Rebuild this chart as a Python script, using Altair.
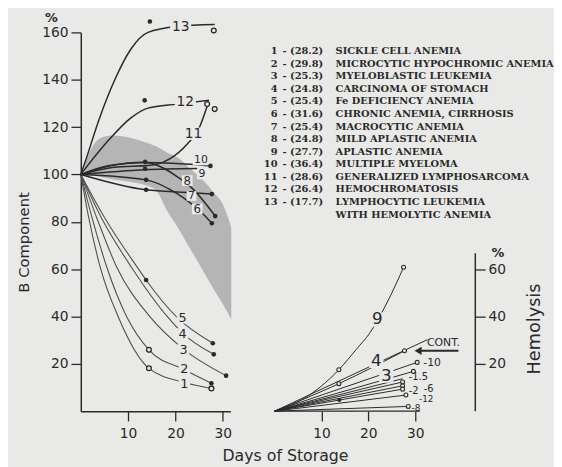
import altair as alt
import pandas as pd

BG = "#e9e9e7"
INK = "#2a2a2a"
GRAY = "#505050"
SANS = "DejaVu Sans"
SERIF = "DejaVu Serif"

# ---------------- Left panel: B component (%) vs days of storage ----------------
B1_DAY = [0, 1.7, 4.1, 7.9, 14.4, 21.9, 27.6]
B1_PCT = [100, 81.5, 60.8, 39.9, 18.1, 12.1, 9.6]
B2_DAY = [0, 2.4, 5.5, 9.7, 14.4, 21.9, 27.6]
B2_PCT = [100, 81.5, 60.8, 39.9, 25.9, 17.5, 11.8]
B3_DAY = [0, 3.4, 7.6, 14.6, 21.7, 30.7]
B3_PCT = [100, 81.5, 60.8, 39.9, 26.2, 15.0]
B4_DAY = [0, 4.4, 10.7, 18.3, 21.5, 28.1]
B4_PCT = [100, 81.5, 60.8, 39.9, 33.0, 24.0]
B5_DAY = [0, 5.1, 12.1, 13.8, 20.4, 27.9]
B5_PCT = [100, 81.5, 60.3, 55.4, 39.5, 28.7]
B6_DAY = [0, 13.8, 19.0, 21.8, 26.0, 27.7]
B6_PCT = [100, 97.7, 93.5, 90.0, 83.0, 79.4]
B7_DAY = [0, 13.8, 22.5, 27.7]
B7_PCT = [100, 93.5, 92.4, 91.7]
B8_DAY = [0, 6, 13.5, 17.6, 20.4, 23.5, 28.4]
B8_PCT = [100, 103.5, 105.1, 102.5, 99.0, 94.2, 82.4]
B9_DAY = [0, 13.5, 24.6]
B9_PCT = [100, 102.0, 102.5]
B10_DAY = [0, 6, 13.5, 27.4]
B10_PCT = [100, 103.8, 105.0, 103.6]
B11_DAY = [0, 7, 14.8, 22.5, 24.9, 26.7]
B11_PCT = [100, 103, 103.9, 112.9, 119.1, 128.8]
B12_DAY = [0, 5.8, 10.6, 14.2, 20.4, 27.1]
B12_PCT = [100, 114.3, 123.9, 128.0, 129.7, 131.3]
B13_DAY = [0, 1.04, 3.75, 7.3, 10.6, 14.2, 20.4, 28.3]
B13_PCT = [100, 106, 122.6, 140.5, 153, 160, 162.5, 163.3]

B_LABEL = ["1", "2", "3", "4", "5", "6", "7", "8", "9", "10", "11", "12", "13"]
B_LABEL_DAY = [21.9, 21.9, 21.7, 21.5, 21.5, 24.6, 23.4, 22.5, 25.6, 25.4, 23.8, 22.1, 21.1]
B_LABEL_PCT = [11.6, 17.7, 26.0, 32.6, 39.4, 85.4, 90.9, 97.4, 100.0, 105.9, 117.2, 130.4, 162.4]
B_LABEL_SIZE = [13, 13, 13, 13, 13, 12, 11, 12, 11, 11, 14, 14, 14]

B_DOT_DAY = [14.6, 28.1, 13.5, 28.3, 26.7, 27.4, 13.6, 13.6, 13.8, 27.7, 13.8, 27.7, 28.4,
             14.4, 27.6, 14.4, 27.6, 30.7, 28.1, 13.8, 27.9]
B_DOT_PCT = [164.6, 160.8, 131.3, 127.6, 129.7, 103.6, 105.3, 102.4, 93.5, 91.7, 97.7, 79.4, 82.4,
             18.1, 9.6, 25.9, 11.8, 15.0, 24.0, 55.4, 28.7]
B_DOT_OPEN = [False, True, False, True, True, False, False, False, False, False, False, False, False,
              True, True, True, False, False, False, False, False]

BAND_DAY = [0.8, 2, 4, 6.5, 10, 13.5, 15.8, 18.3, 20.7, 22, 24, 26, 28, 30, 31.8]
BAND_LO = [100, 100, 99, 98, 97, 95.5, 93.5, 84.4, 76.9, 72.4, 65.6, 58.7, 51.8, 45.3, 38.8]
BAND_HI = [104, 110, 115.2, 116.4, 115.7, 113.6, 112, 109.2, 106.8, 104.5, 100.9, 97.2, 92.6, 87.5, 77.5]

# ---------------- Right panel: hemolysis (%) vs days of storage ----------------
H9_DAY = [0, 6.3, 13.7, 17.5, 20.3, 23.5, 25.9, 27.5]
H9_PCT = [0, 5.4, 17.5, 26.3, 33.0, 44.0, 53.7, 60.8]
H4_DAY = [0, 13.7, 27.7]
H4_PCT = [0, 11.6, 25.5]
HCONT_DAY = [0, 32.6]
HCONT_PCT = [0, 30.2]
H10_DAY = [0, 30.4]
H10_PCT = [0, 20.6]
H1_DAY = [0, 29.6]
H1_PCT = [0, 16.8]
H3_DAY = [0, 27.3]
H3_PCT = [0, 13.7]
H5_DAY = [0, 27.3]
H5_PCT = [0, 12.3]
H2_DAY = [0, 27.3]
H2_PCT = [0, 10.7]
H6_DAY = [0, 27.3]
H6_PCT = [0, 9.3]
H12_DAY = [0, 28.0]
H12_PCT = [0, 6.8]
H8_DAY = [0, 28.5]
H8_PCT = [0, 2.0]

H_DOT_DAY = [13.7, 27.5, 13.7, 27.7, 30.4, 29.6, 27.3, 27.3, 27.3, 28.0, 28.5, 13.8]
H_DOT_PCT = [17.5, 60.8, 11.6, 25.5, 20.6, 16.8, 12.3, 10.7, 9.3, 6.8, 2.0, 4.7]
H_DOT_OPEN = [True, True, True, True, True, True, True, True, True, True, True, False]

H_LABEL = ["9", "4", "3"]
H_LABEL_DAY = [21.9, 21.7, 23.8]
H_LABEL_PCT = [38.7, 21.2, 15.0]

H_TAG = ["CONT.", "-10", "-1.5", "-2", "-6", "-12", "-8"]
H_TAG_DAY = [32.5, 31.7, 28.6, 28.6, 31.8, 30.8, 29.2]
H_TAG_PCT = [28.6, 20.4, 14.2, 8.4, 9.4, 5.0, 1.3]
H_TAG_SIZE = [11, 11, 10, 10, 10, 9, 9]

ARROW_DAY = [39.2, 30.6]
ARROW_PCT = [25.5, 25.5]

LEGEND_NUM = ["1", "2", "3", "4", "5", "6", "7", "8", "9", "10", "11", "12", "13", ""]
LEGEND_CODE = ["- (28.2)", "- (29.8)", "- (25.3)", "- (24.8)", "- (25.4)", "- (31.6)", "- (25.4)",
               "- (24.8)", "- (27.7)", "- (36.4)", "- (28.6)", "- (26.4)", "- (17.7)", ""]
LEGEND_NAME = ["SICKLE CELL ANEMIA", "MICROCYTIC HYPOCHROMIC ANEMIA", "MYELOBLASTIC LEUKEMIA",
               "CARCINOMA OF STOMACH", "Fe DEFICIENCY ANEMIA", "CHRONIC ANEMIA, CIRRHOSIS",
               "MACROCYTIC ANEMIA", "MILD APLASTIC ANEMIA", "APLASTIC ANEMIA", "MULTIPLE MYELOMA",
               "GENERALIZED LYMPHOSARCOMA", "HEMOCHROMATOSIS", "LYMPHOCYTIC LEUKEMIA",
               "WITH HEMOLYTIC ANEMIA"]

ONE_DIGIT = "M-1,-1L1,-1L1,1L-1,1Z"
TWO_DIGIT = "M-1.7,-1L1.7,-1L1.7,1L-1.7,1Z"


def series(prefix, names, days_list, vals_list):
    frames = []
    for n, d, v in zip(names, days_list, vals_list):
        frames.append(pd.DataFrame({"s": prefix + n, "day": d, "pct": v, "o": list(range(len(d)))}))
    return pd.concat(frames, ignore_index=True)


low_df = series("B", ["1", "2", "3", "4", "5"],
                [B1_DAY, B2_DAY, B3_DAY, B4_DAY, B5_DAY],
                [B1_PCT, B2_PCT, B3_PCT, B4_PCT, B5_PCT])
up_df = series("B", ["6", "7", "8", "9", "10", "11", "12", "13"],
               [B6_DAY, B7_DAY, B8_DAY, B9_DAY, B10_DAY, B11_DAY, B12_DAY, B13_DAY],
               [B6_PCT, B7_PCT, B8_PCT, B9_PCT, B10_PCT, B11_PCT, B12_PCT, B13_PCT])
blab_df = pd.DataFrame({"t": B_LABEL, "day": B_LABEL_DAY, "pct": B_LABEL_PCT, "fs": B_LABEL_SIZE})
blab_df["area"] = (blab_df["fs"] * 0.9) ** 2
bdot_df = pd.DataFrame({"day": B_DOT_DAY, "pct": B_DOT_PCT, "open": B_DOT_OPEN})
band_df = pd.DataFrame({"day": BAND_DAY, "lo": BAND_LO, "hi": BAND_HI})

XL = alt.X("day:Q", scale=alt.Scale(domain=[0, 31.6], nice=False, zero=False),
           axis=alt.Axis(values=[10, 20, 30], title=None, labelPadding=6))
YAX = alt.Axis(values=[20, 40, 60, 80, 100, 120, 140, 160], title="B Component",
               titleAngle=270, titleY=213, titlePadding=10, titleFontSize=15)
YL = alt.Y("pct:Q", scale=alt.Scale(domain=[0, 160], nice=False), axis=YAX)

band = alt.Chart(band_df).mark_area(color="#ababab", opacity=0.85, interpolate="monotone").encode(
    x=XL, y=alt.Y("lo:Q", scale=alt.Scale(domain=[0, 160], nice=False), axis=YAX), y2="hi:Q")
low_lines = alt.Chart(low_df).mark_line(color=GRAY, strokeWidth=1.1, interpolate="monotone").encode(
    x=XL, y=YL, detail="s:N", order="o:Q")
up_lines = alt.Chart(up_df).mark_line(color=INK, strokeWidth=1.5, interpolate="monotone").encode(
    x=XL, y=YL, detail="s:N", order="o:Q")
gap1 = alt.Chart(blab_df).transform_filter("length(datum.t) == 1").mark_point(
    shape=ONE_DIGIT, filled=True, color=BG, opacity=1, strokeWidth=0).encode(
    x=XL, y=YL, size=alt.Size("area:Q", scale=None, legend=None))
gap2 = alt.Chart(blab_df).transform_filter("length(datum.t) == 2").mark_point(
    shape=TWO_DIGIT, filled=True, color=BG, opacity=1, strokeWidth=0).encode(
    x=XL, y=YL, size=alt.Size("area:Q", scale=None, legend=None))
blab = alt.Chart(blab_df).mark_text(font=SANS, color=INK).encode(
    x=XL, y=YL, text="t:N", size=alt.Size("fs:Q", scale=None, legend=None))
bdot_fill = alt.Chart(bdot_df).transform_filter("!datum.open").mark_circle(color=INK, size=22, opacity=1).encode(
    x=XL, y=YL)
bdot_open = alt.Chart(bdot_df).transform_filter("datum.open").mark_point(
    shape="circle", fill=BG, stroke=INK, strokeWidth=1.3, size=24, opacity=1, filled=False).encode(x=XL, y=YL)
pct_left = alt.Chart(pd.DataFrame({"t": ["%"]})).mark_text(font=SANS, fontSize=13, color=INK, fontWeight="bold").encode(
    text="t:N", x=alt.value(-30), y=alt.value(-15))

left = alt.layer(band, low_lines, up_lines, gap1, gap2, blab, bdot_fill, bdot_open, pct_left).properties(
    width=152, height=385)

# ---------------- right panel ----------------
h_df = series("H", ["9", "4", "CONT", "10", "1", "3", "5", "2", "6", "12", "8"],
              [H9_DAY, H4_DAY, HCONT_DAY, H10_DAY, H1_DAY, H3_DAY, H5_DAY, H2_DAY, H6_DAY, H12_DAY, H8_DAY],
              [H9_PCT, H4_PCT, HCONT_PCT, H10_PCT, H1_PCT, H3_PCT, H5_PCT, H2_PCT, H6_PCT, H12_PCT, H8_PCT])
hdot_df = pd.DataFrame({"day": H_DOT_DAY, "pct": H_DOT_PCT, "open": H_DOT_OPEN})
hlab_df = pd.DataFrame({"t": H_LABEL, "day": H_LABEL_DAY, "pct": H_LABEL_PCT})
htag_df = pd.DataFrame({"t": H_TAG, "day": H_TAG_DAY, "pct": H_TAG_PCT, "fs": H_TAG_SIZE})
arrow_df = pd.DataFrame({"day": ARROW_DAY, "pct": ARROW_PCT, "o": [0, 1]})

XR = alt.X("day:Q", scale=alt.Scale(domain=[0, 42.8], nice=False, zero=False),
           axis=alt.Axis(values=[10, 20, 30], title=None, domain=False, labelPadding=6))
YR = alt.Y("pct:Q", scale=alt.Scale(domain=[0, 160], nice=False),
           axis=alt.Axis(orient="right", values=[20, 40, 60], domain=False, title="Hemolysis",
                         titleAngle=270, titleY=301, titlePadding=38, titleFontSize=18))

h_lines = alt.Chart(h_df).mark_line(color=INK, strokeWidth=1.0, interpolate="monotone").encode(
    x=XR, y=YR, detail="s:N", order="o:Q")
h_base = alt.Chart(pd.DataFrame({"day": [0], "day2": [31], "pct": [0]})).mark_rule(color=INK, strokeWidth=1.3).encode(
    x=XR, x2="day2:Q", y=YR)
h_axis = alt.Chart(pd.DataFrame({"pct": [0], "pct2": [66.7]})).mark_rule(color=INK, strokeWidth=1.5).encode(
    x=alt.value(204), y=YR, y2="pct2:Q")
hgap = alt.Chart(hlab_df).mark_point(shape=ONE_DIGIT, filled=True, color=BG, opacity=1, size=210, strokeWidth=0).encode(
    x=XR, y=YR)
hlab = alt.Chart(hlab_df).mark_text(font=SANS, fontSize=17, color=INK).encode(x=XR, y=YR, text="t:N")
htag = alt.Chart(htag_df).mark_text(font=SANS, align="left", color=INK).encode(
    x=XR, y=YR, text="t:N", size=alt.Size("fs:Q", scale=None, legend=None))
hdot_fill = alt.Chart(hdot_df).transform_filter("!datum.open").mark_circle(color=INK, size=18, opacity=1).encode(
    x=XR, y=YR)
hdot_open = alt.Chart(hdot_df).transform_filter("datum.open").mark_point(
    shape="circle", fill=BG, stroke=INK, strokeWidth=1.1, size=16, opacity=1, filled=False).encode(x=XR, y=YR)
arrow_line = alt.Chart(arrow_df).mark_line(color=INK, strokeWidth=2).encode(x=XR, y=YR, order="o:Q")
arrow_head = alt.Chart(arrow_df).transform_filter("datum.o == 1").mark_point(
    shape="triangle-left", filled=True, color=INK, size=70, opacity=1).encode(x=XR, y=YR)
pct_right = alt.Chart(pd.DataFrame({"t": ["%"], "pct": [66.7]})).mark_text(
    font=SANS, fontSize=13, color=INK, fontWeight="bold").encode(text="t:N", x=alt.value(227), y=YR)

right_plot = alt.layer(h_base, h_axis, h_lines, hgap, hlab, htag, hdot_fill, hdot_open,
                       arrow_line, arrow_head, pct_right)

leg_df = pd.DataFrame({"row": list(range(len(LEGEND_NUM))), "num": LEGEND_NUM,
                       "code": LEGEND_CODE, "name": LEGEND_NAME})
LY = alt.Y("row:Q", scale=alt.Scale(domain=[-1.48, 28.6], reverse=True, nice=False, zero=False), axis=None)
leg_num = alt.Chart(leg_df).mark_text(font=SERIF, fontSize=10, fontWeight="bold", align="right", color=INK).encode(
    x=alt.value(3), y=LY, text="num:N")
leg_code = alt.Chart(leg_df).mark_text(font=SERIF, fontSize=10, fontWeight="bold", align="left", color=INK).encode(
    x=alt.value(8), y=LY, text="code:N")
leg_name = alt.Chart(leg_df).mark_text(font=SERIF, fontSize=10, fontWeight="bold", align="left", color=INK).encode(
    x=alt.value(62), y=LY, text="name:N")
legend = alt.layer(leg_num, leg_code, leg_name)

right = alt.layer(right_plot, legend).resolve_scale(y="independent").properties(width=204, height=385)

chart = alt.hconcat(left, right, spacing=32).properties(
    title=alt.TitleParams("Days of Storage", orient="bottom", anchor="middle", fontSize=16, font=SANS,
                          fontWeight="normal", color=INK, offset=8)
).configure(background=BG, padding={"left": 9, "top": 0, "right": 0, "bottom": 0}).configure_view(
    stroke=None
).configure_axis(
    grid=False, domainColor=INK, domainWidth=1.5, tickColor=INK, tickWidth=1.3, tickSize=10,
    labelFont=SANS, labelFontSize=14, labelColor=INK, labelPadding=3,
    titleFont=SANS, titleColor=INK, titleFontWeight="normal"
)

chart.save("out.html", embed_options={"renderer": "svg", "actions": False})
